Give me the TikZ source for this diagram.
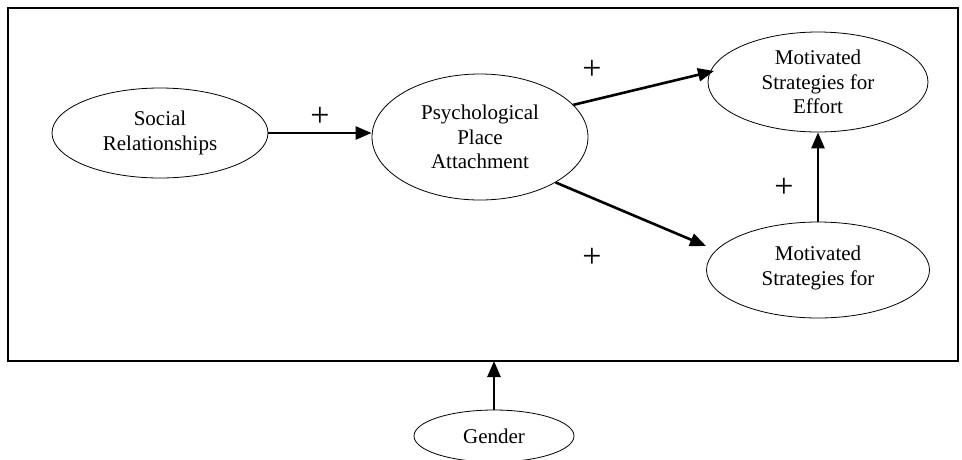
\documentclass[tikz,border=0pt]{standalone}
\usepackage{fontspec}
\setmainfont{Liberation Serif}
\usetikzlibrary{shapes.geometric,arrows.meta}
\begin{document}
\begin{tikzpicture}[x=1pt,y=-1pt,
  oval/.style={draw,ellipse,line width=0.8pt,inner sep=0pt},
  lbl/.style={align=center,font=\fontsize{21}{24.5}\selectfont},
  conn/.style={line width=2.6pt,-{Triangle[length=16pt,width=13pt]}},
  sign/.style={font=\fontsize{34}{36}\selectfont}]
\useasboundingbox (0,0) rectangle (962,459);
\draw[line width=1.8pt] (8,8) rectangle (958,361);
\coordinate (boxb) at (494,361);
\node[oval,minimum width=216pt,minimum height=90pt] (soc) at (160,133) {};
\node[lbl] at (soc) {Social\\Relationships};
\node[oval,minimum width=216pt,minimum height=126pt] (psy) at (480,137) {};
\node[lbl] at (psy) {Psychological\\Place\\Attachment};
\node[oval,minimum width=220pt,minimum height=100pt] (mse) at (818,82) {};
\node[lbl] at (mse) {Motivated\\Strategies for\\Effort};
\node[oval,minimum width=223pt,minimum height=96pt] (msb) at (818,270) {};
\node[lbl] at (818,268) {Motivated\\Strategies for};
\node[oval,minimum width=160pt,minimum height=52pt] (gen) at (494,436) {};
\node[lbl] at (gen) {Gender};
\coordinate (t1) at (714,71);
\coordinate (t2) at (706,246);
\draw[conn] (soc.east) -- (soc.east -| psy.west);
\draw[conn] (psy.19) -- (t1);
\draw[conn] (psy.-31) -- (t2);
\draw[conn] (msb.north) -- (mse.south);
\draw[conn] (gen.north) -- (boxb);
\node[sign] at (320,117) {+};
\node[sign] at (592,70) {+};
\node[sign] at (592,258) {+};
\node[sign] at (784,188) {+};
\end{tikzpicture}
\end{document}
